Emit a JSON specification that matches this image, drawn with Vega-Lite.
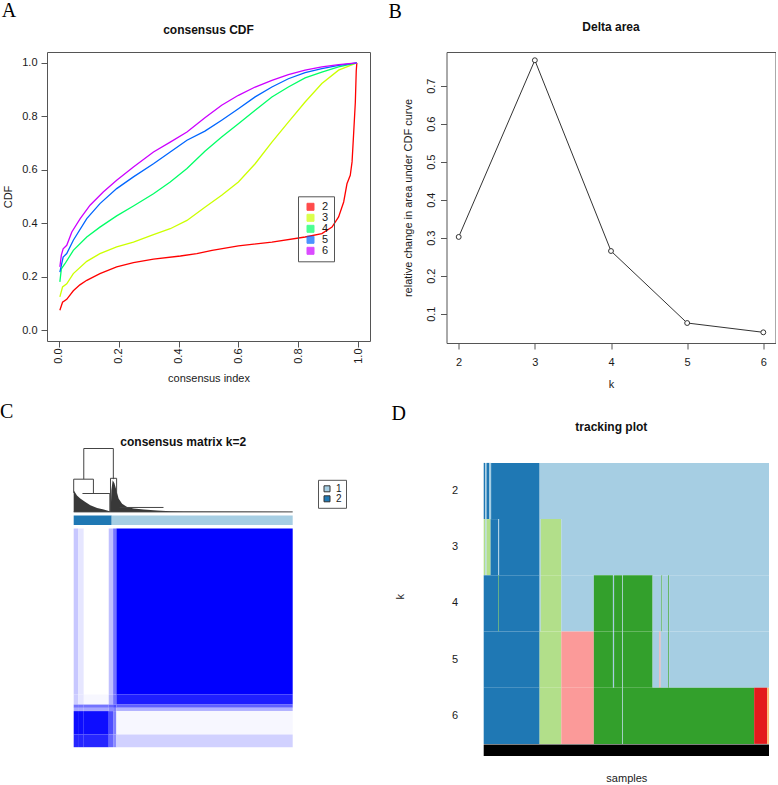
{
  "$schema": "https://vega.github.io/schema/vega-lite/v6.json",
  "padding": 0,
  "background": "white",
  "config": {
    "font": "Liberation Sans",
    "view": {"stroke": null},
    "axis": {"labelFont": "Liberation Sans", "titleFont": "Liberation Sans", "labelColor": "#1a1a1a", "titleColor": "#1a1a1a", "tickColor": "#555", "domain": false, "grid": false, "labelFontSize": 11, "titleFontSize": 11, "titleFontWeight": "normal", "tickSize": 6, "labelFlush": false, "labelOverlap": false},
    "title": {"font": "Liberation Sans", "fontSize": 12, "fontWeight": "bold", "color": "#111"},
    "legend": {"labelFont": "Liberation Sans", "labelColor": "#1a1a1a"}
  },
  "datasets": {
    "cdf": [
      {"k":"2","x":0.003,"y":0.075},{"k":"2","x":0.012,"y":0.105},{"k":"2","x":0.026,"y":0.116},{"k":"2","x":0.048,"y":0.148},{"k":"2","x":0.07,"y":0.17},{"k":"2","x":0.093,"y":0.187},{"k":"2","x":0.137,"y":0.212},{"k":"2","x":0.193,"y":0.237},{"k":"2","x":0.249,"y":0.253},{"k":"2","x":0.316,"y":0.266},{"k":"2","x":0.406,"y":0.278},{"k":"2","x":0.461,"y":0.287},{"k":"2","x":0.512,"y":0.299},{"k":"2","x":0.6,"y":0.316},{"k":"2","x":0.712,"y":0.33},{"k":"2","x":0.823,"y":0.349},{"k":"2","x":0.879,"y":0.362},{"k":"2","x":0.913,"y":0.386},{"k":"2","x":0.935,"y":0.424},{"k":"2","x":0.952,"y":0.48},{"k":"2","x":0.963,"y":0.548},{"k":"2","x":0.974,"y":0.58},{"k":"2","x":0.98,"y":0.63},{"k":"2","x":0.985,"y":0.73},{"k":"2","x":0.991,"y":0.854},{"k":"2","x":0.994,"y":0.97},{"k":"2","x":0.996,"y":1.0},
      {"k":"3","x":0.003,"y":0.125},{"k":"3","x":0.012,"y":0.162},{"k":"3","x":0.026,"y":0.174},{"k":"3","x":0.048,"y":0.212},{"k":"3","x":0.093,"y":0.258},{"k":"3","x":0.137,"y":0.287},{"k":"3","x":0.193,"y":0.312},{"k":"3","x":0.249,"y":0.33},{"k":"3","x":0.316,"y":0.358},{"k":"3","x":0.372,"y":0.38},{"k":"3","x":0.428,"y":0.411},{"k":"3","x":0.488,"y":0.46},{"k":"3","x":0.544,"y":0.505},{"k":"3","x":0.6,"y":0.555},{"k":"3","x":0.656,"y":0.623},{"k":"3","x":0.712,"y":0.704},{"k":"3","x":0.767,"y":0.779},{"k":"3","x":0.823,"y":0.854},{"k":"3","x":0.879,"y":0.923},{"k":"3","x":0.935,"y":0.973},{"k":"3","x":0.996,"y":1.0},
      {"k":"4","x":0.003,"y":0.181},{"k":"4","x":0.008,"y":0.23},{"k":"4","x":0.02,"y":0.249},{"k":"4","x":0.048,"y":0.299},{"k":"4","x":0.093,"y":0.349},{"k":"4","x":0.137,"y":0.386},{"k":"4","x":0.193,"y":0.428},{"k":"4","x":0.249,"y":0.465},{"k":"4","x":0.316,"y":0.511},{"k":"4","x":0.372,"y":0.555},{"k":"4","x":0.428,"y":0.605},{"k":"4","x":0.488,"y":0.67},{"k":"4","x":0.544,"y":0.723},{"k":"4","x":0.6,"y":0.773},{"k":"4","x":0.656,"y":0.823},{"k":"4","x":0.712,"y":0.873},{"k":"4","x":0.767,"y":0.91},{"k":"4","x":0.823,"y":0.944},{"k":"4","x":0.879,"y":0.966},{"k":"4","x":0.935,"y":0.985},{"k":"4","x":0.996,"y":1.0},
      {"k":"5","x":0.003,"y":0.218},{"k":"5","x":0.008,"y":0.243},{"k":"5","x":0.014,"y":0.274},{"k":"5","x":0.026,"y":0.287},{"k":"5","x":0.048,"y":0.337},{"k":"5","x":0.093,"y":0.418},{"k":"5","x":0.137,"y":0.474},{"k":"5","x":0.193,"y":0.53},{"k":"5","x":0.249,"y":0.574},{"k":"5","x":0.316,"y":0.623},{"k":"5","x":0.372,"y":0.667},{"k":"5","x":0.428,"y":0.711},{"k":"5","x":0.488,"y":0.745},{"k":"5","x":0.544,"y":0.786},{"k":"5","x":0.6,"y":0.829},{"k":"5","x":0.656,"y":0.873},{"k":"5","x":0.712,"y":0.91},{"k":"5","x":0.767,"y":0.941},{"k":"5","x":0.823,"y":0.964},{"k":"5","x":0.879,"y":0.979},{"k":"5","x":0.935,"y":0.991},{"k":"5","x":0.996,"y":1.0},
      {"k":"6","x":0.003,"y":0.237},{"k":"6","x":0.008,"y":0.281},{"k":"6","x":0.014,"y":0.305},{"k":"6","x":0.026,"y":0.318},{"k":"6","x":0.043,"y":0.368},{"k":"6","x":0.071,"y":0.418},{"k":"6","x":0.104,"y":0.468},{"k":"6","x":0.148,"y":0.517},{"k":"6","x":0.193,"y":0.561},{"k":"6","x":0.249,"y":0.611},{"k":"6","x":0.316,"y":0.667},{"k":"6","x":0.372,"y":0.704},{"k":"6","x":0.428,"y":0.742},{"k":"6","x":0.488,"y":0.795},{"k":"6","x":0.544,"y":0.842},{"k":"6","x":0.6,"y":0.879},{"k":"6","x":0.656,"y":0.91},{"k":"6","x":0.712,"y":0.935},{"k":"6","x":0.767,"y":0.956},{"k":"6","x":0.823,"y":0.973},{"k":"6","x":0.879,"y":0.985},{"k":"6","x":0.935,"y":0.994},{"k":"6","x":0.996,"y":1.0}
    ],
    "delta": [
      {"k":2,"area":0.302},{"k":3,"area":0.767},{"k":4,"area":0.265},{"k":5,"area":0.0755},{"k":6,"area":0.051}
    ],
    "dendroArea": [
      {"x":0,"h":0.34},{"x":0.015,"h":0.26},{"x":0.03,"h":0.21},{"x":0.053,"h":0.158},{"x":0.076,"h":0.105},{"x":0.107,"h":0.063},{"x":0.137,"h":0.037},{"x":0.16,"h":0.016},{"x":0.167,"h":0.005},{"x":0.169,"h":0.005},{"x":0.172,"h":0.34},{"x":0.178,"h":0.5},{"x":0.186,"h":0.45},{"x":0.195,"h":0.34},{"x":0.205,"h":0.21},{"x":0.221,"h":0.13},{"x":0.244,"h":0.079},{"x":0.274,"h":0.053},{"x":0.32,"h":0.037},{"x":0.381,"h":0.021},{"x":0.441,"h":0.01},{"x":0.502,"h":0.005},{"x":1.0,"h":0.0}
    ],
    "dendroSeg": [
      {"x":0.046,"x2":0.181,"h":1,"h2":1},
      {"x":0.046,"x2":0.046,"h":1,"h2":0.516},
      {"x":0.181,"x2":0.181,"h":1,"h2":0.516},
      {"x":0.0,"x2":0.09,"h":0.516,"h2":0.516},
      {"x":0.0,"x2":0.0,"h":0.516,"h2":0.3},
      {"x":0.09,"x2":0.09,"h":0.516,"h2":0.29},
      {"x":0.04,"x2":0.165,"h":0.29,"h2":0.29},
      {"x":0.165,"x2":0.165,"h":0.29,"h2":0.0},
      {"x":0.168,"x2":0.196,"h":0.53,"h2":0.53},
      {"x":0.168,"x2":0.168,"h":0.53,"h2":0.0},
      {"x":0.196,"x2":0.196,"h":0.53,"h2":0.3},
      {"x":0.21,"x2":0.41,"h":0.07,"h2":0.07},
      {"x":0.0,"x2":1.0,"h":0.0,"h2":0.0}
    ],
    "clusterBar": [
      {"x0":0,"x1":0.1735,"cluster":"2"},{"x0":0.1735,"x1":1,"cluster":"1"}
    ],
    "heat": [
      {"x0":0,"x1":0.02,"y0":0,"y1":0.759,"v":0.22},{"x0":0.02,"x1":0.046,"y0":0,"y1":0.759,"v":0.1},{"x0":0.046,"x1":0.16,"y0":0,"y1":0.759,"v":0.0},{"x0":0.16,"x1":0.18,"y0":0,"y1":0.759,"v":0.25},{"x0":0.18,"x1":0.195,"y0":0,"y1":0.759,"v":0.55},{"x0":0.195,"x1":1,"y0":0,"y1":0.759,"v":1.0},
      {"x0":0,"x1":0.02,"y0":0.759,"y1":0.805,"v":0.2},{"x0":0.02,"x1":0.046,"y0":0.759,"y1":0.805,"v":0.1},{"x0":0.046,"x1":0.16,"y0":0.759,"y1":0.805,"v":0.03},{"x0":0.16,"x1":0.18,"y0":0.759,"y1":0.805,"v":0.3},{"x0":0.18,"x1":0.195,"y0":0.759,"y1":0.805,"v":0.55},{"x0":0.195,"x1":1,"y0":0.759,"y1":0.805,"v":0.88},
      {"x0":0,"x1":0.02,"y0":0.805,"y1":0.82,"v":0.55},{"x0":0.02,"x1":0.046,"y0":0.805,"y1":0.82,"v":0.55},{"x0":0.046,"x1":0.16,"y0":0.805,"y1":0.82,"v":0.55},{"x0":0.16,"x1":0.18,"y0":0.805,"y1":0.82,"v":0.6},{"x0":0.18,"x1":0.195,"y0":0.805,"y1":0.82,"v":0.7},{"x0":0.195,"x1":1,"y0":0.805,"y1":0.82,"v":0.62},
      {"x0":0,"x1":0.02,"y0":0.82,"y1":0.835,"v":0.35},{"x0":0.02,"x1":0.046,"y0":0.82,"y1":0.835,"v":0.35},{"x0":0.046,"x1":0.16,"y0":0.82,"y1":0.835,"v":0.35},{"x0":0.16,"x1":0.18,"y0":0.82,"y1":0.835,"v":0.45},{"x0":0.18,"x1":0.195,"y0":0.82,"y1":0.835,"v":0.5},{"x0":0.195,"x1":1,"y0":0.82,"y1":0.835,"v":0.3},
      {"x0":0,"x1":0.02,"y0":0.835,"y1":0.942,"v":0.95},{"x0":0.02,"x1":0.046,"y0":0.835,"y1":0.942,"v":0.95},{"x0":0.046,"x1":0.16,"y0":0.835,"y1":0.942,"v":0.95},{"x0":0.16,"x1":0.18,"y0":0.835,"y1":0.942,"v":0.7},{"x0":0.18,"x1":0.195,"y0":0.835,"y1":0.942,"v":0.5},{"x0":0.195,"x1":1,"y0":0.835,"y1":0.942,"v":0.03},
      {"x0":0,"x1":0.02,"y0":0.942,"y1":1,"v":0.85},{"x0":0.02,"x1":0.046,"y0":0.942,"y1":1,"v":0.85},{"x0":0.046,"x1":0.16,"y0":0.942,"y1":1,"v":0.85},{"x0":0.16,"x1":0.18,"y0":0.942,"y1":1,"v":0.6},{"x0":0.18,"x1":0.195,"y0":0.942,"y1":1,"v":0.45},{"x0":0.195,"x1":1,"y0":0.942,"y1":1,"v":0.18}
    ],
    "track": [
      {"k":"2","x0":0,"x1":0.005,"c":"2"},{"k":"2","x0":0.005,"x1":0.01,"c":"1"},{"k":"2","x0":0.01,"x1":0.02,"c":"2"},{"k":"2","x0":0.02,"x1":0.026,"c":"1"},{"k":"2","x0":0.026,"x1":0.196,"c":"2"},{"k":"2","x0":0.196,"x1":1,"c":"1"},
      {"k":"3","x0":0,"x1":0.006,"c":"3"},{"k":"3","x0":0.006,"x1":0.01,"c":"1"},{"k":"3","x0":0.01,"x1":0.024,"c":"3"},{"k":"3","x0":0.024,"x1":0.051,"c":"2"},{"k":"3","x0":0.051,"x1":0.054,"c":"1"},{"k":"3","x0":0.054,"x1":0.196,"c":"2"},{"k":"3","x0":0.196,"x1":0.2,"c":"1"},{"k":"3","x0":0.2,"x1":0.272,"c":"3"},{"k":"3","x0":0.272,"x1":1,"c":"1"},
      {"k":"4","x0":0,"x1":0.051,"c":"2"},{"k":"4","x0":0.051,"x1":0.053,"c":"4"},{"k":"4","x0":0.053,"x1":0.196,"c":"2"},{"k":"4","x0":0.196,"x1":0.2,"c":"1"},{"k":"4","x0":0.2,"x1":0.272,"c":"3"},{"k":"4","x0":0.272,"x1":0.386,"c":"1"},{"k":"4","x0":0.386,"x1":0.453,"c":"4"},{"k":"4","x0":0.453,"x1":0.457,"c":"1"},{"k":"4","x0":0.457,"x1":0.486,"c":"4"},{"k":"4","x0":0.486,"x1":0.488,"c":"1"},{"k":"4","x0":0.488,"x1":0.592,"c":"4"},{"k":"4","x0":0.592,"x1":0.623,"c":"1"},{"k":"4","x0":0.623,"x1":0.626,"c":"4"},{"k":"4","x0":0.626,"x1":0.647,"c":"1"},{"k":"4","x0":0.647,"x1":0.65,"c":"4"},{"k":"4","x0":0.65,"x1":1,"c":"1"},
      {"k":"5","x0":0,"x1":0.196,"c":"2"},{"k":"5","x0":0.196,"x1":0.272,"c":"3"},{"k":"5","x0":0.272,"x1":0.386,"c":"5"},{"k":"5","x0":0.386,"x1":0.453,"c":"4"},{"k":"5","x0":0.453,"x1":0.457,"c":"1"},{"k":"5","x0":0.457,"x1":0.486,"c":"4"},{"k":"5","x0":0.486,"x1":0.488,"c":"1"},{"k":"5","x0":0.488,"x1":0.592,"c":"4"},{"k":"5","x0":0.592,"x1":0.616,"c":"1"},{"k":"5","x0":0.616,"x1":0.62,"c":"5"},{"k":"5","x0":0.62,"x1":0.647,"c":"1"},{"k":"5","x0":0.647,"x1":0.65,"c":"4"},{"k":"5","x0":0.65,"x1":1,"c":"1"},
      {"k":"6","x0":0,"x1":0.196,"c":"2"},{"k":"6","x0":0.196,"x1":0.272,"c":"3"},{"k":"6","x0":0.272,"x1":0.386,"c":"5"},{"k":"6","x0":0.386,"x1":0.486,"c":"4"},{"k":"6","x0":0.486,"x1":0.488,"c":"1"},{"k":"6","x0":0.488,"x1":0.948,"c":"4"},{"k":"6","x0":0.948,"x1":0.994,"c":"6"},{"k":"6","x0":0.994,"x1":1,"c":"7"}
    ]
  },
  "resolve": {"scale": {"color": "independent"}, "legend": {"color": "independent"}},
  "spacing": 11.5,
  "vconcat": [
    {
      "spacing": 17.5,
      "resolve": {"scale": {"color": "independent"}, "legend": {"color": "independent"}},
      "hconcat": [
        {
          "title": {"text": "A", "anchor": "start", "font": "Liberation Serif", "fontSize": 20, "fontWeight": "normal", "color": "#000", "dx": 0, "offset": 2.9},
          "vconcat": [
            {
              "title": {"text": "consensus CDF", "offset": 14.9},
              "width": 323,
              "height": 289,
              "view": {"stroke": "#555", "strokeWidth": 1},
              "data": {"name": "cdf"},
              "encoding": {
                "x": {"field": "x", "type": "quantitative", "scale": {"domain": [-0.04, 1.04], "nice": false, "zero": false},
                      "axis": {"values": [0, 0.2, 0.4, 0.6, 0.8, 1], "format": ".1f", "labelAngle": -90, "labelPadding": 1, "title": "consensus index", "titlePadding": 9}},
                "y": {"field": "y", "type": "quantitative", "scale": {"domain": [-0.04, 1.041], "nice": false, "zero": false},
                      "axis": {"values": [0, 0.2, 0.4, 0.6, 0.8, 1], "format": ".1f", "labelPadding": 4, "title": "CDF", "titlePadding": 8.5}}
              },
              "layer": [
                {
                  "mark": {"type": "point", "shape": "square", "filled": true, "size": 0},
                  "encoding": {
                    "color": {"field": "k", "type": "nominal",
                              "scale": {"domain": ["2", "3", "4", "5", "6"], "range": ["#FF0000", "#CCFF00", "#00FF66", "#0066FF", "#CC00FF"]},
                              "legend": {"orient": "none", "legendX": 251, "legendY": 144.3, "title": null, "symbolType": "square", "symbolSize": 49, "symbolStrokeColor": "#333", "symbolStrokeWidth": 1, "strokeColor": "#555", "padding": 5, "labelFontSize": 11, "labelOffset": 6, "symbolOffset": 2, "rowPadding": -1}}
                  }
                },
                {
                  "mark": {"type": "line", "strokeWidth": 1.3},
                  "encoding": {
                    "color": {"field": "k", "type": "nominal", "legend": null}
                  }
                }
              ]
            }
          ]
        },
        {
          "title": {"text": "B", "anchor": "start", "font": "Liberation Serif", "fontSize": 20, "fontWeight": "normal", "color": "#000", "dx": -13.5, "offset": -1.1},
          "vconcat": [
            {
              "title": {"text": "Delta area", "offset": 17.9},
              "width": 329,
              "height": 291,
              "view": {"stroke": "#555", "strokeWidth": 1},
              "data": {"name": "delta"},
              "encoding": {
                "x": {"field": "k", "type": "quantitative", "scale": {"domain": [1.84, 6.16], "nice": false, "zero": false},
                      "axis": {"values": [2, 3, 4, 5, 6], "format": "d", "labelPadding": 7, "title": "k", "titlePadding": 11}},
                "y": {"field": "area", "type": "quantitative", "scale": {"domain": [0.0229, 0.7887], "nice": false, "zero": false},
                      "axis": {"values": [0.1, 0.2, 0.3, 0.4, 0.5, 0.6, 0.7], "format": ".1f", "labelAngle": -90, "labelPadding": 4, "title": "relative change in area under CDF curve", "titlePadding": 12}}
              },
              "layer": [
                {"mark": {"type": "line", "color": "#333", "strokeWidth": 1}},
                {"mark": {"type": "point", "shape": "circle", "filled": true, "fill": "white", "stroke": "#333", "strokeWidth": 1, "size": 24, "opacity": 1}}
              ]
            }
          ]
        }
      ]
    },
    {
      "spacing": 43.7,
      "resolve": {"scale": {"color": "independent"}, "legend": {"color": "independent"}},
      "hconcat": [
        {
          "title": {"text": "C", "anchor": "start", "font": "Liberation Serif", "fontSize": 20, "fontWeight": "normal", "color": "#000", "dx": -47, "offset": 13.6},
          "vconcat": [
            {
              "spacing": 3,
              "bounds": "flush",
              "resolve": {"scale": {"color": "independent"}, "legend": {"color": "independent"}},
              "vconcat": [
                {
                  "title": {"text": "consensus matrix k=2", "offset": -1, "dx": 13.35},
                  "width": 245.7,
                  "height": 63.4,
                  "encoding": {
                    "x": {"field": "x", "type": "quantitative", "scale": {"domain": [-0.1219, 1], "nice": false, "zero": false}, "axis": null},
                    "y": {"field": "h", "type": "quantitative", "scale": {"domain": [0, 1], "nice": false, "zero": false}, "axis": null}
                  },
                  "layer": [
                    {"data": {"name": "dendroArea"}, "mark": {"type": "area", "color": "#222", "opacity": 0.9}},
                    {"data": {"name": "dendroSeg"}, "mark": {"type": "rule", "color": "#444", "strokeWidth": 1},
                     "encoding": {"x2": {"field": "x2"}, "y2": {"field": "h2"}}}
                  ]
                },
                {
                  "width": 245.7,
                  "height": 9.6,
                  "data": {"name": "clusterBar"},
                  "mark": {"type": "rect"},
                  "encoding": {
                    "x": {"field": "x0", "type": "quantitative", "scale": {"domain": [-0.1219, 1], "nice": false, "zero": false}, "axis": null},
                    "x2": {"field": "x1"},
                    "color": {"field": "cluster", "type": "nominal",
                              "scale": {"domain": ["1", "2"], "range": ["#A6CEE3", "#1F78B4"]},
                              "legend": {"orient": "none", "legendX": 271, "legendY": -35.7, "title": null, "symbolType": "square", "symbolSize": 36, "symbolStrokeColor": "#333", "symbolStrokeWidth": 1, "strokeColor": "#555", "padding": 4, "labelFontSize": 10, "labelOffset": 4, "symbolOffset": 0, "rowPadding": 0}}
                  }
                },
                {
                  "width": 245.7,
                  "height": 218.7,
                  "data": {"name": "heat"},
                  "mark": {"type": "rect"},
                  "encoding": {
                    "x": {"field": "x0", "type": "quantitative", "scale": {"domain": [-0.1219, 1], "nice": false, "zero": false}, "axis": null},
                    "x2": {"field": "x1"},
                    "y": {"field": "y0", "type": "quantitative", "scale": {"domain": [0, 1], "nice": false, "zero": false, "reverse": true}, "axis": null},
                    "y2": {"field": "y1"},
                    "color": {"field": "v", "type": "quantitative", "scale": {"domain": [0, 1], "range": ["#FFFFFF", "#0000FF"], "interpolate": "rgb"}, "legend": null}
                  }
                }
              ]
            }
          ]
        },
        {
          "title": {"text": "D", "anchor": "start", "font": "Liberation Serif", "fontSize": 20, "fontWeight": "normal", "color": "#000", "dx": -3, "offset": -3.2},
          "vconcat": [
            {
              "spacing": 0,
              "bounds": "flush",
              "vconcat": [
                {
                  "title": {"text": "tracking plot", "offset": 15, "dx": -15},
                  "width": 285.3,
                  "height": 295.4,
                  "data": {"name": "track"},
                  "mark": {"type": "rect"},
                  "encoding": {
                    "x": {"field": "x0", "type": "quantitative", "scale": {"domain": [0, 1], "nice": false, "zero": false},
                          "axis": {"title": "samples", "labels": false, "ticks": false, "tickSize": 0, "titlePadding": 29}},
                    "x2": {"field": "x1"},
                    "y": {"field": "k", "type": "ordinal", "scale": {"domain": ["2", "3", "4", "5", "6"], "paddingInner": 0, "paddingOuter": 0.128, "align": 1},
                          "axis": {"title": "k", "labelAngle": 0, "ticks": false, "tickSize": 0, "labelPadding": 26, "titlePadding": 46}},
                    "color": {"field": "c", "type": "nominal",
                              "scale": {"domain": ["1", "2", "3", "4", "5", "6", "7"], "range": ["#A6CEE3", "#1F78B4", "#B2DF8A", "#33A02C", "#FB9A99", "#E31A1C", "#FDBF6F"]},
                              "legend": null}
                  }
                },
                {
                  "width": 285.3,
                  "height": 11.6,
                  "data": {"values": [{"annotation": "samples"}]},
                  "mark": {"type": "rect", "color": "#000"},
                  "encoding": {}
                }
              ]
            }
          ]
        }
      ]
    }
  ]
}
